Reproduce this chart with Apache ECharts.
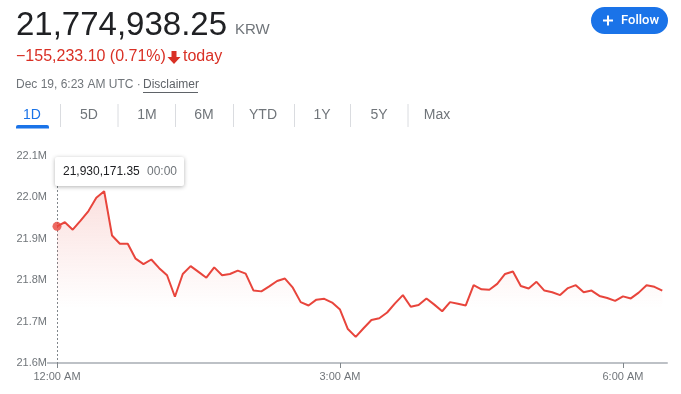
<!DOCTYPE html>
<html>
<head>
<meta charset="utf-8">
<script src="https://cdn.jsdelivr.net/npm/echarts@6/dist/echarts.min.js"></script>
<style>
html,body{margin:0;padding:0;background:#fff;}
#chart{width:681px;height:394px;}
</style>
</head>
<body>
<div id="chart"></div>
<script>
// ---- data ----
var times = [
  "00:00","00:05","00:10","00:15","00:20","00:25","00:30","00:35","00:40","00:45","00:50","00:55",
  "01:00","01:05","01:10","01:15","01:20","01:25","01:30","01:35","01:40","01:45","01:50","01:55",
  "02:00","02:05","02:10","02:15","02:20","02:25","02:30","02:35","02:40","02:45","02:50","02:55",
  "03:00","03:05","03:10","03:15","03:20","03:25","03:30","03:35","03:40","03:45","03:50","03:55",
  "04:00","04:05","04:10","04:15","04:20","04:25","04:30","04:35","04:40","04:45","04:50","04:55",
  "05:00","05:05","05:10","05:15","05:20","05:25","05:30","05:35","05:40","05:45","05:50","05:55",
  "06:00","06:05","06:10","06:15","06:20","06:25"
];
var prices = [
  21930171.35,21940000,21922000,21944000,21967000,21999000,22015000,21908000,21888000,21888000,21852000,21839000,
  21850000,21829000,21812000,21760000,21815000,21834000,21820000,21806000,21831000,21812000,21815000,21823000,
  21816000,21775000,21773000,21785000,21798000,21804000,21782000,21747000,21739000,21753000,21755000,21746000,
  21729000,21682000,21663000,21684000,21704000,21708000,21722000,21744000,21764000,21736000,21740000,21756000,
  21741000,21725000,21747000,21743000,21739000,21788000,21778000,21777000,21791000,21815000,21821000,21786000,
  21780000,21796000,21775000,21771000,21764000,21781000,21788000,21771000,21775000,21762000,21757000,21750000,
  21761000,21756000,21770000,21788000,21784000,21774938.25
];
var xTickLabels = ["12:00 AM","3:00 AM","6:00 AM"];
var xTickTimes = ["00:00","03:00","06:00"];
var yMin = 21600000, yMax = 22100000, yStep = 100000;
var tabs = ["1D","5D","1M","6M","YTD","1Y","5Y","Max"];
var headerPrice = "21,774,938.25";
var headerCurrency = "KRW";
var headerChange = "\u2212155,233.10 (0.71%)";
var headerChangeSuffix = "today";
var headerDate = "Dec 19, 6:23 AM UTC \u00b7 ";
var headerDisclaimer = "Disclaimer";
var tooltipValue = "21,930,171.35";
var tooltipTime = "00:00";

function toMin(t){ var p = t.split(":"); return (+p[0])*60 + (+p[1]); }
var seriesData = times.map(function(t,i){ return [toMin(t), prices[i]]; });
var xTickMins = xTickTimes.map(toMin);

var RED = '#e8453c', GRAY = '#70757a', DARK = '#202124', BLUE = '#1a73e8';
var FONT = '"Liberation Sans", Arial, sans-serif';

var chart = echarts.init(document.getElementById('chart'), null, {renderer:'canvas'});
chart.setOption({
  animation:false,
  grid:{left:57,right:14,top:156,bottom:31},
  xAxis:{
    type:'value', min:0, max:388, interval:180,
    axisLine:{show:true, lineStyle:{color:'#bdc1c6', width:2}},
    axisTick:{show:true, length:5, customValues:xTickMins, lineStyle:{color:'#80868b', width:1}},
    axisLabel:{customValues:xTickMins, margin:8, color:GRAY, fontSize:11, fontFamily:FONT,
      formatter:function(v){ var i = xTickMins.indexOf(v); return i>=0 ? xTickLabels[i] : ''; }},
    splitLine:{show:false}
  },
  yAxis:{
    type:'value', min:yMin, max:yMax, interval:yStep,
    axisLine:{show:false},
    axisTick:{show:true, length:10, customValues:[yMin], lineStyle:{color:'#bdc1c6', width:2}},
    axisLabel:{margin:10, color:GRAY, fontSize:11, fontFamily:FONT,
      formatter:function(v){ return (v/1e6).toFixed(1)+'M'; }},
    splitLine:{show:true, lineStyle:{color:'#f1f3f4', width:1}}
  },
  series:[
    {type:'line', data:seriesData, showSymbol:false, symbol:'none',
     lineStyle:{color:RED, width:2}, z:3,
     areaStyle:{color:new echarts.graphic.LinearGradient(0,0,0,1,[
       {offset:0,color:'rgba(232,69,60,0.24)'},
       {offset:0.68,color:'rgba(232,69,60,0)'},
       {offset:1,color:'rgba(232,69,60,0)'}])}
    },
    {type:'scatter', data:[seriesData[0]], symbolSize:9, itemStyle:{color:RED}, z:5, silent:true}
  ]
});

var p0 = chart.convertToPixel({gridIndex:0}, seriesData[0]);
var pAxis = chart.convertToPixel({gridIndex:0}, [seriesData[0][0], yMin]);

var g = [];
// header
g.push({type:'text', left:16, top:9, style:{text:headerPrice, font:'33px '+FONT, fill:DARK}});
g.push({type:'text', left:235, top:22, style:{text:headerCurrency, font:'15px '+FONT, fill:GRAY}});
g.push({type:'text', left:16, top:49, style:{text:headerChange, font:'16px '+FONT, fill:'#d93025'}});
g.push({type:'polygon', shape:{points:[[171.5,51],[176.5,51],[176.5,57],[180.5,57],[174,64],[167.5,57],[171.5,57]]}, style:{fill:'#d93025'}});
g.push({type:'text', left:183, top:49, style:{text:headerChangeSuffix, font:'16px '+FONT, fill:'#d93025'}});
g.push({type:'text', left:16, top:79, style:{text:headerDate, font:'12px '+FONT, fill:GRAY}});
g.push({type:'text', left:143, top:79, style:{text:headerDisclaimer, font:'12px '+FONT, fill:'#5f6368'}});
g.push({type:'line', shape:{x1:143,y1:92.5,x2:198,y2:92.5}, style:{stroke:'#5f6368', lineWidth:1}});
// follow button
g.push({type:'rect', shape:{x:591,y:7,width:77,height:27,r:13.5}, style:{fill:BLUE}});
g.push({type:'line', shape:{x1:603,y1:20.5,x2:613,y2:20.5}, style:{stroke:'#fff', lineWidth:2}});
g.push({type:'line', shape:{x1:608,y1:15.5,x2:608,y2:25.5}, style:{stroke:'#fff', lineWidth:2}});
g.push({type:'text', x:621, y:21, style:{text:'Follow', font:'500 13px Roboto, '+FONT, fill:'#fff', verticalAlign:'middle', align:'left'}});
// tabs
var tabCenters = [32, 89, 147, 204, 263, 322, 379, 437];
tabs.forEach(function(t,i){
  g.push({type:'text', x:tabCenters[i], y:115, style:{text:t, font:'14px '+FONT, fill:i===0?BLUE:GRAY, align:'center', verticalAlign:'middle'}});
  if(i>0){
    var sx = (tabCenters[i-1]+tabCenters[i])/2 + (i===5?2:0);
    g.push({type:'line', shape:{x1:sx,y1:104,x2:sx,y2:127}, style:{stroke:'#dadce0', lineWidth:1}});
  }
});
g.push({type:'rect', shape:{x:16,y:125,width:33,height:3.5,r:[2,2,0,0]}, style:{fill:BLUE}});
// hover line + tooltip
g.push({type:'line', shape:{x1:Math.round(p0[0])+0.5,y1:186,x2:Math.round(p0[0])+0.5,y2:pAxis[1]}, style:{stroke:'#80868b', lineWidth:1, lineDash:[2,2]}, z:2});
g.push({type:'rect', shape:{x:p0[0]-2,y:157,width:129,height:29,r:2}, style:{fill:'#fff', shadowBlur:4, shadowOffsetY:1, shadowColor:'rgba(0,0,0,0.3)'}, z:10});
g.push({type:'text', x:p0[0]+6, y:172, style:{text:tooltipValue, font:'12px '+FONT, fill:DARK, verticalAlign:'middle'}, z:11});
g.push({type:'text', x:p0[0]+90, y:172, style:{text:tooltipTime, font:'12px '+FONT, fill:GRAY, verticalAlign:'middle'}, z:11});

chart.setOption({graphic:g});
</script>
</body>
</html>
